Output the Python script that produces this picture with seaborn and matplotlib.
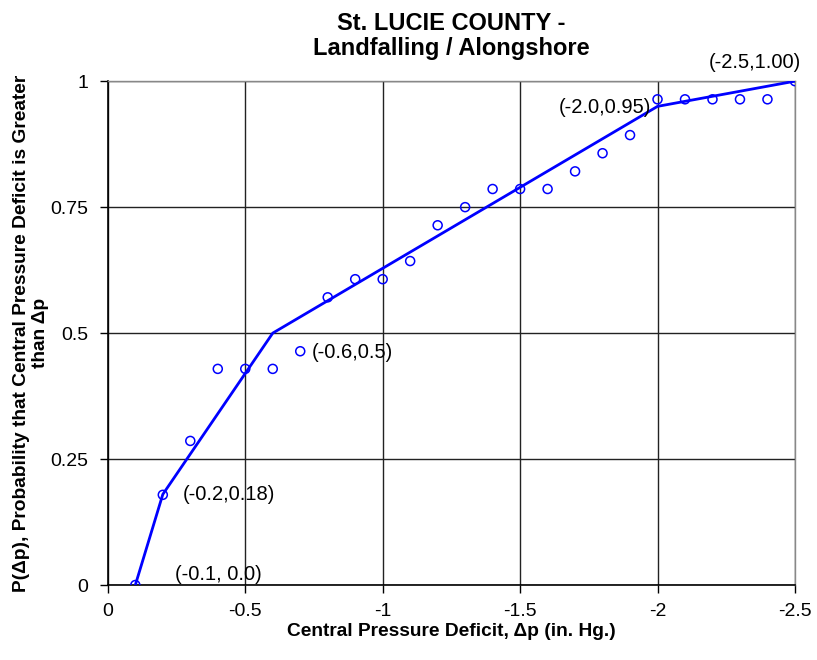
import matplotlib
matplotlib.use('Agg')
import numpy as np
import pandas as pd
import seaborn as sns
from matplotlib import pyplot as plt

# observed exceedance probabilities (open circles)
obs_dp = [-0.1, -0.2, -0.3, -0.4, -0.5, -0.6, -0.7, -0.8, -0.9, -1.0, -1.1, -1.2, -1.3,
          -1.4, -1.5, -1.6, -1.7, -1.8, -1.9, -2.0, -2.1, -2.2, -2.3, -2.4, -2.5]
obs_p = [0.0, 0.179, 0.286, 0.429, 0.429, 0.429, 0.464, 0.571, 0.607, 0.607, 0.643, 0.714, 0.75,
         0.786, 0.786, 0.786, 0.821, 0.857, 0.893, 0.964, 0.964, 0.964, 0.964, 0.964, 1.0]

# piecewise linear fit
fit_dp = [-0.1, -0.2, -0.6, -2.0, -2.5]
fit_p = [0.0, 0.18, 0.5, 0.95, 1.0]
fit_labels = ['(-0.1, 0.0)', '(-0.2,0.18)', '(-0.6,0.5)', '(-2.0,0.95)', '(-2.5,1.00)']

x_ticks = [0, -0.5, -1, -1.5, -2, -2.5]
x_ticklabels = ['0', '-0.5', '-1', '-1.5', '-2', '-2.5']
y_ticks = [0, 0.25, 0.5, 0.75, 1]
y_ticklabels = ['0', '0.25', '0.5', '0.75', '1']

sns.set_theme(style='white')
plt.rcParams['font.family'] = ['Liberation Sans', 'DejaVu Sans']
plt.rcParams['text.color'] = 'black'
plt.rcParams['axes.labelcolor'] = 'black'

obs = pd.DataFrame({'dp': obs_dp, 'p': obs_p})
fit = pd.DataFrame({'dp': fit_dp, 'p': fit_p})

fig = plt.figure(figsize=(8.17, 6.6), dpi=100)
ax = fig.add_axes([0.132, 0.1136, 0.841, 0.7634])

sns.lineplot(data=fit, x='dp', y='p', ax=ax, color='#0000ff', linewidth=2, sort=False, zorder=3)
sns.scatterplot(data=obs, x='dp', y='p', ax=ax, marker='o', s=42, linewidth=1.1,
                edgecolor='#0000ff', zorder=4)
ax.collections[-1].set_facecolor('none')

ax.set_xlim(0, -2.5)
ax.set_ylim(0, 1)
ax.set_xticks(x_ticks)
ax.set_xticklabels(x_ticklabels)
ax.set_yticks(y_ticks)
ax.set_yticklabels(y_ticklabels)
ax.tick_params(axis='both', labelsize=14, colors='black', length=6, width=1,
               direction='out', bottom=True, left=True, pad=7)
ax.tick_params(axis='y', pad=8)

ax.grid(True, color='#222222', linewidth=1)
for side in ['top', 'right']:
    ax.spines[side].set_color('#888888')
    ax.spines[side].set_linewidth(1)
for side in ['left', 'bottom']:
    ax.spines[side].set_color('black')
    ax.spines[side].set_linewidth(1.2)

offsets = [(40, 11, 'left'), (20, 0, 'left'), (39, -19, 'left'), (-6, -1, 'right'), (-40, 19, 'center')]
for (dx, dy, ha), xv, yv, lab in zip(offsets, fit_dp, fit_p, fit_labels):
    ax.annotate(lab, xy=(xv, yv), xytext=(dx, dy), textcoords='offset pixels',
                ha=ha, va='center', fontsize=14.5, color='black')

ax.set_title('St. LUCIE COUNTY -\nLandfalling / Alongshore', fontsize=17, fontweight='bold',
             pad=19, linespacing=1.1, color='black')
ax.set_xlabel('Central Pressure Deficit, \u0394p (in. Hg.)', fontsize=13.8, fontweight='bold',
              labelpad=2)
ax.set_ylabel('P(\u0394p), Probability that Central Pressure Deficit is Greater\nthan \u0394p',
              fontsize=13.8, fontweight='bold', labelpad=1, linespacing=1.12)

fig.savefig('out.png', dpi=100)
